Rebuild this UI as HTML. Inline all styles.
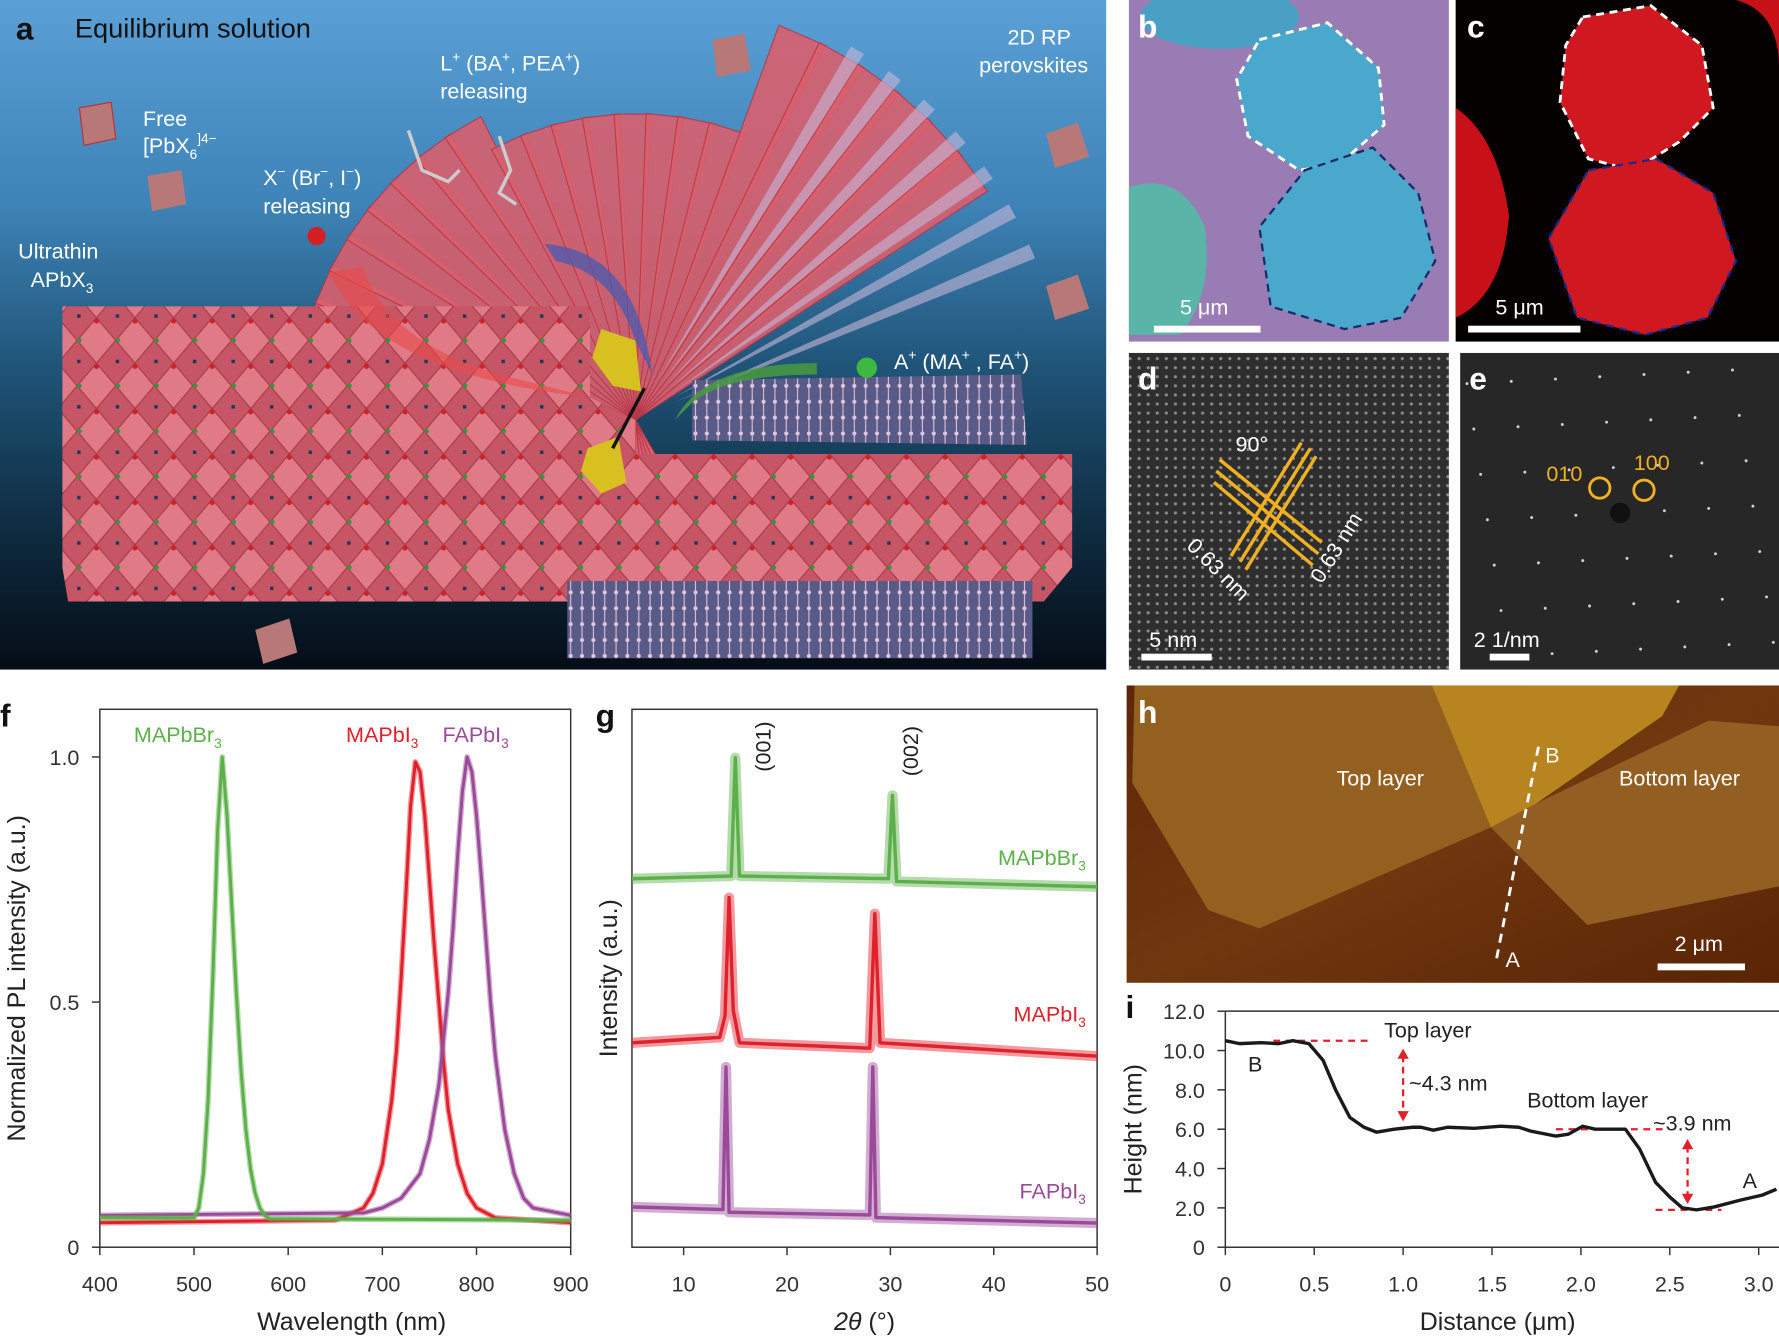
<!DOCTYPE html>
<html><head><meta charset="utf-8"><style>
html,body{margin:0;padding:0;background:#fff}
svg{display:block}
text{font-family:"Liberation Sans",sans-serif}
</style></head><body>
<svg id="fig" xmlns="http://www.w3.org/2000/svg" width="1779" height="1338" viewBox="0 0 1568 1179" preserveAspectRatio="none">
<defs>
<linearGradient id="bgA" x1="0" y1="0" x2="0" y2="1">
<stop offset="0" stop-color="#5aa0d6"/><stop offset="0.3" stop-color="#3f84b8"/><stop offset="0.55" stop-color="#1f5478"/><stop offset="0.8" stop-color="#0e2a3e"/><stop offset="1" stop-color="#050d16"/></linearGradient>
<pattern id="dia" width="34" height="40" patternUnits="userSpaceOnUse"><rect width="34" height="40" fill="#c65666"/><path d="M17 0 L34 20 L17 40 L0 20Z" fill="#e07a86" stroke="#a83a48" stroke-width="1"/><circle cx="17" cy="3" r="2.2" fill="#d0202a"/><circle cx="2" cy="20" r="2" fill="#2a9a3a"/><rect x="-3" y="37" width="6" height="6" fill="#1a3a55"/></pattern>
<pattern id="lil" width="10" height="14" patternUnits="userSpaceOnUse"><rect width="10" height="14" fill="#5a5a86"/><circle cx="3" cy="4" r="1.8" fill="#e8d0e6"/><line x1="3" y1="0" x2="3" y2="14" stroke="#d8c0dc" stroke-width="1"/></pattern>
<pattern id="tem" width="8" height="8" patternUnits="userSpaceOnUse"><rect width="8" height="8" fill="#2e2e2e"/><circle cx="4" cy="4" r="1.4" fill="#8a8a8a"/></pattern>
<linearGradient id="bgH" x1="0" y1="0" x2="1" y2="1"><stop offset="0" stop-color="#5e2608"/><stop offset="0.5" stop-color="#70380f"/><stop offset="1" stop-color="#5a2406"/></linearGradient>
</defs>

<!-- Panel a -->
<g>
<rect x="0" y="0" width="975" height="590" fill="url(#bgA)"/>
<g id="fan"></g>
<polygon points="55,270 520,270 520,350 560,370 560,400 945,400 945,500 920,530 60,530 55,500" fill="url(#dia)"/>
<polygon points="610,335 900,330 905,392 610,388" fill="url(#lil)"/>
<polygon points="500,512 910,512 910,580 500,580" fill="url(#lil)"/>
<path d="M290,240 Q330,330 520,350 L440,330 Q340,300 320,235Z" fill="#e84a4a" opacity="0.6"/>
<path d="M480,215 Q560,220 575,330 L560,300 Q540,240 490,230Z" fill="#4a5ab0" opacity="0.75"/>
<path d="M720,320 Q620,320 595,370 L610,355 Q640,330 720,330Z" fill="#4a9a40" opacity="0.85"/>
<polygon points="530,290 560,300 565,345 540,340 522,315" fill="#d8c020"/>
<polygon points="518,395 545,385 552,425 530,435 512,415" fill="#d8c020"/>
<line x1="568" y1="342" x2="540" y2="395" stroke="#111" stroke-width="3"/>
<polygon points="70,95 98,90 102,122 74,128" fill="#b87878" stroke="#c03030" stroke-width="1"/>
<polygon points="130,155 160,150 164,180 134,186" fill="#b87878"/>
<polygon points="628,35 656,30 662,62 632,68" fill="#b87878"/>
<polygon points="922,118 950,108 960,138 930,148" fill="#b87878"/>
<polygon points="922,252 950,242 960,272 930,282" fill="#b87878"/>
<polygon points="225,555 255,545 262,575 232,585" fill="#b87878"/>
<circle cx="279" cy="208" r="8" fill="#d42020"/>
<circle cx="764" cy="324" r="9" fill="#3cba40"/>
<g stroke="#cccccc" stroke-width="3" fill="none"><path d="M360,115 L372,150 L395,160 L405,150"/><path d="M440,120 L450,150 L440,170 L455,180"/></g>
<text x="14" y="35" font-size="28" font-weight="bold" fill="#111">a</text>
<text x="66" y="33" font-size="24" fill="#111">Equilibrium solution</text>
<g font-size="19" fill="#fff">
<text x="126" y="111">Free</text>
<text x="126" y="135">[PbX<tspan font-size="12" dy="5">6</tspan><tspan dy="-14" font-size="12">]4−</tspan></text>
<text x="232" y="163">X<tspan font-size="12" dy="-8">−</tspan><tspan dy="8"> (Br</tspan><tspan font-size="12" dy="-8">−</tspan><tspan dy="8">, I</tspan><tspan font-size="12" dy="-8">−</tspan><tspan dy="8">)</tspan></text>
<text x="232" y="188">releasing</text>
<text x="388" y="62">L<tspan font-size="12" dy="-8">+</tspan><tspan dy="8"> (BA</tspan><tspan font-size="12" dy="-8">+</tspan><tspan dy="8">, PEA</tspan><tspan font-size="12" dy="-8">+</tspan><tspan dy="8">)</tspan></text>
<text x="388" y="87">releasing</text>
<text x="888" y="39">2D RP</text>
<text x="863" y="64">perovskites</text>
<text x="16" y="228">Ultrathin</text>
<text x="27" y="253">APbX<tspan font-size="12" dy="5">3</tspan></text>
<text x="788" y="325">A<tspan font-size="12" dy="-8">+</tspan><tspan dy="8"> (MA</tspan><tspan font-size="12" dy="-8">+</tspan><tspan dy="8"> , FA</tspan><tspan font-size="12" dy="-8">+</tspan><tspan dy="8">)</tspan></text>
</g>
</g>

<!-- Panel b -->
<g>
<rect x="995" y="0" width="282" height="301" fill="#9a7cb4"/>
<ellipse cx="1075" cy="15" rx="70" ry="28" fill="#4aa0c4"/>
<path d="M995,165 Q1040,150 1062,200 Q1070,260 1040,295 L995,295Z" fill="#5ab4a8"/>
<polygon points="1110,35 1170,20 1215,60 1220,110 1180,145 1145,150 1100,120 1090,70" fill="#4aa8cc" stroke="#fff" stroke-width="2.5" stroke-dasharray="7,5"/>
<polygon points="1150,150 1210,130 1250,170 1265,230 1235,280 1185,290 1120,270 1110,200" fill="#4aa8cc" stroke="#1a2a6a" stroke-width="2" stroke-dasharray="7,5"/>
<rect x="1017" y="287" width="94" height="6" fill="#fff"/>
<text x="1040" y="277" font-size="19" fill="#fff">5 μm</text>
<text x="1003" y="33" font-size="28" font-weight="bold" fill="#fff">b</text>
</g>

<!-- Panel c -->
<g>
<rect x="1283" y="0" width="285" height="301" fill="#050000"/>
<path d="M1283,95 Q1320,120 1330,190 Q1325,260 1283,280Z" fill="#c81018"/>
<path d="M1530,0 Q1568,10 1568,60 L1568,0Z" fill="#c81018"/>
<polygon points="1395,15 1455,5 1500,40 1510,95 1480,125 1440,150 1400,140 1375,90 1380,40" fill="#d01820" stroke="#fff" stroke-width="2.5" stroke-dasharray="7,5"/>
<polygon points="1400,150 1460,140 1510,170 1530,230 1505,280 1450,295 1390,280 1365,210" fill="#d01820" stroke="#1a2a8a" stroke-width="2" stroke-dasharray="7,5"/>
<rect x="1294" y="287" width="99" height="6" fill="#fff"/>
<text x="1318" y="277" font-size="19" fill="#fff">5 μm</text>
<text x="1293" y="33" font-size="28" font-weight="bold" fill="#fff">c</text>
</g>

<!-- Panel d -->
<g>
<rect x="995" y="311" width="282" height="279" fill="url(#tem)"/>
<g stroke="#f0b020" stroke-width="3">
<line x1="1075" y1="405" x2="1165" y2="478"/><line x1="1072" y1="415" x2="1162" y2="488"/><line x1="1070" y1="425" x2="1157" y2="498"/>
<line x1="1147" y1="390" x2="1085" y2="490"/><line x1="1155" y1="395" x2="1093" y2="495"/><line x1="1160" y1="402" x2="1098" y2="502"/>
</g>
<text x="1089" y="398" font-size="19" fill="#fff">90°</text>
<text x="1045" y="482" font-size="19" fill="#fff" transform="rotate(45 1045 482)">0.63 nm</text>
<text x="1165" y="515" font-size="19" fill="#fff" transform="rotate(-58 1165 515)">0.63 nm</text>
<rect x="1006" y="576" width="62" height="6" fill="#fff"/>
<text x="1013" y="570" font-size="19" fill="#fff">5 nm</text>
<text x="1003" y="343" font-size="28" font-weight="bold" fill="#fff">d</text>
</g>

<!-- Panel e -->
<g>
<rect x="1287" y="311" width="281" height="279" fill="#272727"/>
<g id="sped" fill="#cfcfcf"></g>
<circle cx="1428" cy="452" r="9" fill="#111"/>
<circle cx="1410" cy="430" r="9" fill="none" stroke="#f0b020" stroke-width="2.5"/>
<circle cx="1449" cy="432" r="9" fill="none" stroke="#f0b020" stroke-width="2.5"/>
<text x="1363" y="424" font-size="19" fill="#f0b020">010</text>
<text x="1440" y="414" font-size="19" fill="#f0b020">100</text>
<rect x="1313" y="576" width="35" height="6" fill="#fff"/>
<text x="1299" y="570" font-size="19" fill="#fff">2 1/nm</text>
<text x="1295" y="343" font-size="28" font-weight="bold" fill="#fff">e</text>
</g>

<!-- Panel h -->
<g>
<rect x="993" y="604" width="575" height="262" fill="url(#bgH)"/>
<polygon points="998,690 1000,604 1262,604 1314,729 1110,818 1065,802" fill="#946020"/>
<polygon points="1314,729 1354,708 1506,635 1568,640 1568,781 1399,815 1377,793" fill="#935e22"/>
<polygon points="1262,604 1480,604 1465,631 1354,708 1314,729" fill="#b88420"/>
<line x1="1356" y1="658" x2="1319" y2="845" stroke="#fff" stroke-width="2.5" stroke-dasharray="8,6"/>
<g font-size="19" fill="#fff">
<text x="1178" y="692">Top layer</text>
<text x="1427" y="692">Bottom layer</text>
<text x="1362" y="672">B</text>
<text x="1327" y="852">A</text>
<text x="1476" y="838">2 μm</text>
</g>
<rect x="1461" y="849" width="77" height="6" fill="#fff"/>
<text x="1003" y="637" font-size="28" font-weight="bold" fill="#fff">h</text>
</g>

<!-- Panel f -->
<g id="pf">
<text x="0" y="640" font-size="28" font-weight="bold" fill="#111">f</text>
<rect x="88" y="625" width="415" height="474" fill="none" stroke="#333" stroke-width="1.3"/>
<text x="310" y="1172" font-size="22" fill="#222" text-anchor="middle">Wavelength (nm)</text>
<text transform="translate(22 862) rotate(-90)" font-size="22" fill="#222" text-anchor="middle">Normalized PL intensity (a.u.)</text>
<text x="118" y="654" font-size="19" fill="#5cb04a">MAPbBr<tspan font-size="12" dy="5">3</tspan></text>
<text x="305" y="654" font-size="19" fill="#e0202a">MAPbI<tspan font-size="12" dy="5">3</tspan></text>
<text x="390" y="654" font-size="19" fill="#9a4a98">FAPbI<tspan font-size="12" dy="5">3</tspan></text>
</g>

<!-- Panel g -->
<g id="pg">
<text x="525" y="640" font-size="28" font-weight="bold" fill="#111">g</text>
<rect x="557" y="625" width="410" height="474" fill="none" stroke="#333" stroke-width="1.3"/>
<text x="762" y="1172" font-size="22" fill="#222" text-anchor="middle"><tspan font-style="italic">2θ</tspan> (°)</text>
<text transform="translate(544 862) rotate(-90)" font-size="22" fill="#222" text-anchor="middle">Intensity (a.u.)</text>
<text transform="translate(679 680) rotate(-90)" font-size="19" fill="#222">(001)</text>
<text transform="translate(809 684) rotate(-90)" font-size="19" fill="#222">(002)</text>
<text x="957" y="762" font-size="19" fill="#5cb04a" text-anchor="end">MAPbBr<tspan font-size="12" dy="5">3</tspan></text>
<text x="957" y="900" font-size="19" fill="#e0202a" text-anchor="end">MAPbI<tspan font-size="12" dy="5">3</tspan></text>
<text x="957" y="1056" font-size="19" fill="#9a4a98" text-anchor="end">FAPbI<tspan font-size="12" dy="5">3</tspan></text>
</g>

<!-- Panel i -->
<g id="pi">
<text x="992" y="897" font-size="28" font-weight="bold" fill="#111">i</text>
<line x1="1080" y1="891" x2="1568" y2="891" stroke="#333" stroke-width="1.3"/>
<line x1="1080" y1="891" x2="1080" y2="1099" stroke="#333" stroke-width="1.3"/>
<line x1="1080" y1="1099" x2="1568" y2="1099" stroke="#333" stroke-width="1.3"/>
<text x="1320" y="1172" font-size="22" fill="#222" text-anchor="middle">Distance (μm)</text>
<text transform="translate(1006 995) rotate(-90)" font-size="22" fill="#222" text-anchor="middle">Height (nm)</text>
<g font-size="19" fill="#222">
<text x="1220" y="914">Top layer</text>
<text x="1242" y="961">~4.3 nm</text>
<text x="1346" y="976">Bottom layer</text>
<text x="1457" y="996">~3.9 nm</text>
<text x="1100" y="944">B</text>
<text x="1536" y="1047">A</text>
</g>
</g>
</svg>
<script>
// ---- Panel f data (PL) ----
const plWlGreen=[400,500,505,510,515,520,525,530,535,540,545,550,555,560,565,570,575,580,900];
const plGreen=[0.06,0.06,0.08,0.15,0.3,0.55,0.85,1.0,0.88,0.7,0.52,0.36,0.24,0.16,0.11,0.08,0.065,0.058,0.055];
const plWlRed=[400,650,680,690,700,710,715,720,725,730,735,740,745,750,755,760,765,770,780,790,800,820,900];
const plRed=[0.05,0.055,0.08,0.11,0.17,0.3,0.4,0.55,0.72,0.9,0.99,0.97,0.88,0.75,0.62,0.5,0.38,0.28,0.17,0.11,0.08,0.06,0.05];
const plWlPurple=[400,680,700,720,740,750,760,770,775,780,785,790,795,800,805,810,815,820,830,840,850,860,900];
const plPurple=[0.065,0.07,0.08,0.1,0.15,0.22,0.33,0.52,0.65,0.8,0.93,1.0,0.97,0.88,0.76,0.63,0.5,0.39,0.24,0.15,0.1,0.08,0.065];
const plXTicks=[400,500,600,700,800,900];
const plYTicks=[0,0.5,1.0];
const plYTickLabels=["0","0.5","1.0"];
// ---- Panel g data (XRD) ----
const xrdThetaGreen=[5,14.6,15,15.4,29.8,30.2,30.6,50];
const xrdGreen=[68.5,69,91,69,68.5,84,68,67];
const xrdThetaRed=[5,13.5,14.0,14.4,14.8,15.4,28.0,28.5,29.0,50];
const xrdRed=[38,39,43,65,44,38,37,62,38,35.5];
const xrdThetaPurple=[5,13.8,14.1,14.4,28.0,28.3,28.6,50];
const xrdPurple=[7.5,7,33.5,6.5,6,33.5,5.5,4.5];
const xrdXTicks=[10,20,30,40,50];
// ---- Panel i data (height profile) ----
const profDist=[0,0.08,0.2,0.3,0.38,0.47,0.55,0.62,0.7,0.78,0.85,0.95,1.05,1.1,1.17,1.25,1.4,1.55,1.65,1.72,1.86,1.93,2.01,2.08,2.25,2.33,2.42,2.5,2.57,2.65,2.75,2.9,3.02,3.1];
const profHeight=[10.5,10.35,10.4,10.35,10.5,10.35,9.5,8.0,6.6,6.1,5.85,6.0,6.1,6.1,5.95,6.1,6.05,6.15,6.1,5.9,5.65,5.75,6.15,6.0,6.0,5.0,3.3,2.55,2.0,1.9,2.05,2.4,2.65,2.95];
const profXTicks=[0,0.5,1.0,1.5,2.0,2.5,3.0];
const profYTicks=[0,2,4,6,8,10,12];
const profYTickLabels=["0","2.0","4.0","6.0","8.0","10.0","12.0"];

const NS="http://www.w3.org/2000/svg";
function mk(tag,attrs,parent){const e=document.createElementNS(NS,tag);for(const k in attrs)e.setAttribute(k,attrs[k]);parent.appendChild(e);return e;}
function pathFrom(xs,ys,fx,fy){return xs.map((x,i)=>(i?"L":"M")+fx(x).toFixed(1)+","+fy(ys[i]).toFixed(1)).join("");}

// decorative fan of octahedra wedges in panel a
const fan=document.getElementById("fan");
const cx=560, cy=370;
for(let a=-178;a<=-36;a+=6){
 const r1=(a<-120)?300:(a<-70?270:370);
 const a1=a*Math.PI/180, a2=(a+7)*Math.PI/180;
 const pts=`${cx},${cy} ${cx+r1*Math.cos(a1)},${cy+r1*Math.sin(a1)} ${cx+r1*Math.cos(a2)},${cy+r1*Math.sin(a2)}`;
 const w=mk("polygon",{points:pts,fill:"#d8606e",stroke:"#b83848","stroke-width":1,opacity:0.9},fan);
 
 
}
for(let a=-60;a<=-20;a+=6){
 const a1=a*Math.PI/180, a2=(a+2)*Math.PI/180, r1=380;
 const pts=`${cx+40*Math.cos(a1)},${cy+40*Math.sin(a1)} ${cx+r1*Math.cos(a1)},${cy+r1*Math.sin(a1)} ${cx+r1*Math.cos(a2)},${cy+r1*Math.sin(a2)}`;
 const w=mk("polygon",{points:pts,fill:"#c8b8d8",opacity:0.6},fan);
 
 
}
for(let a=60;a<=125;a+=6){
 const a1=a*Math.PI/180, a2=(a+7)*Math.PI/180, r1=160;
 const pts=`${cx},${cy} ${cx+r1*Math.cos(a1)},${cy+r1*Math.sin(a1)} ${cx+r1*Math.cos(a2)},${cy+r1*Math.sin(a2)}`;
 const w=mk("polygon",{points:pts,fill:"#d8606e",stroke:"#b83848","stroke-width":1},fan);
 
 
}

const xF=w=>88+(w-400)*415/500, yF=v=>1099-v*432;
const xG=t=>557+(t-5)*410/45, yG=v=>1099-v*4.74;
const xI=d=>1080+d*156.7, yI=h=>1099-h*17.33;

const pf=document.getElementById("pf");
plXTicks.forEach(t=>{
 const l=mk("line",{x1:xF(t),x2:xF(t),y1:1099,y2:1106,stroke:"#333","stroke-width":1.3},pf);
 
 
 const tx=mk("text",{x:xF(t),y:1138,"font-size":19,fill:"#333","text-anchor":"middle"},pf);tx.textContent=t;
 
 
});
plYTicks.forEach((t,i)=>{
 const l=mk("line",{x1:81,x2:88,y1:yF(t),y2:yF(t),stroke:"#333","stroke-width":1.3},pf);
 
 
 const tx=mk("text",{x:70,y:yF(t)+7,"font-size":19,fill:"#333","text-anchor":"end"},pf);tx.textContent=plYTickLabels[i];
 
 
});
[[plWlRed,plRed,"#e0202a","pl-mapbi3"],[plWlPurple,plPurple,"#9a4a98","pl-fapbi3"],[plWlGreen,plGreen,"#5cb04a","pl-mapbbr3"]].forEach(s=>{
 const d=pathFrom(s[0],s[1],xF,yF);
 const b=mk("path",{d:d,fill:"none",stroke:s[2],"stroke-width":5,opacity:0.45,"stroke-linejoin":"round"},pf);
 
 
 const p=mk("path",{d:d,fill:"none",stroke:s[2],"stroke-width":2.6,"stroke-linejoin":"round"},pf);
 
 
});

const pg=document.getElementById("pg");
xrdXTicks.forEach(t=>{
 const l=mk("line",{x1:xG(t),x2:xG(t),y1:1099,y2:1106,stroke:"#333","stroke-width":1.3},pg);
 
 
 const tx=mk("text",{x:xG(t),y:1138,"font-size":19,fill:"#333","text-anchor":"middle"},pg);tx.textContent=t;
 
 
});
[[xrdThetaGreen,xrdGreen,"#5cb04a","xrd-mapbbr3"],[xrdThetaRed,xrdRed,"#e0202a","xrd-mapbi3"],[xrdThetaPurple,xrdPurple,"#9a4a98","xrd-fapbi3"]].forEach(s=>{
 const d=pathFrom(s[0],s[1],xG,yG);
 const b=mk("path",{d:d,fill:"none",stroke:s[2],"stroke-width":9,opacity:0.45,"stroke-linejoin":"round"},pg);
 
 
 const p=mk("path",{d:d,fill:"none",stroke:s[2],"stroke-width":3,"stroke-linejoin":"round"},pg);
 
 
});

const pi=document.getElementById("pi");
profXTicks.forEach(t=>{
 const l=mk("line",{x1:xI(t),x2:xI(t),y1:1099,y2:1106,stroke:"#333","stroke-width":1.3},pi);
 
 
 const tx=mk("text",{x:xI(t),y:1138,"font-size":19,fill:"#333","text-anchor":"middle"},pi);tx.textContent=t===0?"0":t.toFixed(1);
 
 
});
profYTicks.forEach((t,i)=>{
 const l=mk("line",{x1:1073,x2:1080,y1:yI(t),y2:yI(t),stroke:"#333","stroke-width":1.3},pi);
 
 
 const tx=mk("text",{x:1062,y:yI(t)+7,"font-size":19,fill:"#333","text-anchor":"end"},pi);tx.textContent=profYTickLabels[i];
 
 
});
[[0.27,0.83,10.5],[1.86,2.46,6.0],[2.42,2.79,1.9]].forEach(r=>{
 const l=mk("line",{x1:xI(r[0]),x2:xI(r[1]),y1:yI(r[2]),y2:yI(r[2]),stroke:"#e0202a","stroke-width":2,"stroke-dasharray":"6,5"},pi);
 
 
});
[[1.0,10.1,6.4],[2.6,5.5,2.2]].forEach(r=>{
 const g=mk("g",{},pi);
 
 
 const x=xI(r[0]);
 mk("line",{x1:x,x2:x,y1:yI(r[1])+6,y2:yI(r[2])-6,stroke:"#e0202a","stroke-width":2,"stroke-dasharray":"6,4"},g);
 mk("path",{d:`M${x-5},${yI(r[1])+9}L${x},${yI(r[1])}L${x+5},${yI(r[1])+9}Z`,fill:"#e0202a"},g);
 mk("path",{d:`M${x-5},${yI(r[2])-9}L${x},${yI(r[2])}L${x+5},${yI(r[2])-9}Z`,fill:"#e0202a"},g);
});
const prof=mk("path",{d:pathFrom(profDist,profHeight,xI,yI),fill:"none",stroke:"#1a1a1a","stroke-width":3,"stroke-linejoin":"round"},pi);



// diffraction spot lattice (panel e)
const sp=document.getElementById("sped");
for(let i=-8;i<=8;i++)for(let j=-8;j<=8;j++){
 const x=1428+i*39+j*6, y=452+j*40-i*2;
 if(x>1292&&x<1564&&y>316&&y<586){const c=mk("circle",{cx:x,cy:y,r:1.3},sp);
 
 }
}
</script>
</body></html>
